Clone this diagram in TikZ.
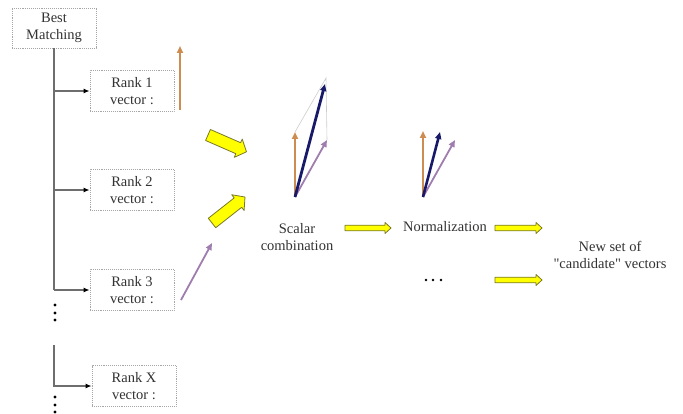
\documentclass[tikz,border=0pt]{standalone}
\usepackage{fontspec}
\defaultfontfeatures[\rmfamily]{}
\setmainfont{Liberation Serif}
\usetikzlibrary{arrows.meta}
\definecolor{vorange}{RGB}{205,140,80}
\definecolor{vnavy}{RGB}{25,25,105}
\definecolor{vpurple}{RGB}{160,125,175}
\definecolor{yfill}{RGB}{255,255,0}
\definecolor{yedge}{RGB}{120,120,40}
\definecolor{conn}{RGB}{110,110,110}
\definecolor{txt}{RGB}{50,50,50}
\tikzset{
  txtfont/.style={font=\fontsize{14.5}{17}\selectfont, text=txt},
  dbox/.style={draw=gray!70, densely dotted, line width=0.9pt, minimum width=84pt, minimum height=41pt, align=center, inner sep=1pt, txtfont},
  lbl/.style={align=center, inner sep=0pt, txtfont},
  connline/.style={draw=conn, line width=1.3pt},
  connarrow/.style={connline, -{Latex[length=6pt,width=5pt,color=black]}},
  yarrowline/.style={draw=yedge, fill=yfill, line width=0.8pt, line join=round},
  vec/.style={line width=#1, -{Triangle[length=7pt,width=6pt]}},
  vec/.default=2.4pt,
  guide/.style={draw=gray!40, line width=0.6pt},
  pics/yarrow/.style n args={4}{code={
    \draw[yarrowline] (0,#2) -- ({#1-#4},#2) -- ({#1-#4},#3) -- (#1,0)
      -- ({#1-#4},-#3) -- ({#1-#4},-#2) -- (0,-#2) -- cycle;}}
}
\begin{document}
\begin{tikzpicture}[x=1pt,y=-1pt]
\useasboundingbox (0,0) rectangle (683,414);

% boxes
\node[dbox, minimum width=84pt, minimum height=40pt] (bm) at (54,28) {Best\\Matching};
\node[dbox] (r1) at (132,91) {Rank 1\\vector :};
\node[dbox] (r2) at (132,190) {Rank 2\\vector :};
\node[dbox] (r3) at (132,290) {Rank 3\\vector :};
\node[dbox] (rx) at (134,386) {Rank X\\vector :};

% tree connectors
\coordinate (j1) at (54,91);
\coordinate (j2) at (54,190);
\coordinate (j3) at (54,290);
\coordinate (jx0) at (54,345);
\coordinate (jx) at (54,386);
\draw[connline] (bm.south) -- (j3);
\draw[connarrow] (j3) -- (r3.west);
\draw[connarrow] (j1) -- (r1.west);
\draw[connarrow] (j2) -- (r2.west);
\draw[connarrow] (jx0) -- (jx) -- (rx.west);

% vertical dots
\foreach \yy in {305,313,320,397,405,412}
  \fill[black] (55,\yy) circle (1.6pt);

% rank vectors
\coordinate (o1a) at (180,110);
\coordinate (o1b) at (180,46);
\draw[vec, vorange] (o1a) -- (o1b);
\coordinate (p3a) at (181,300);
\coordinate (p3b) at (212,243);
\draw[vec=1.8pt, vpurple] (p3a) -- (p3b);

% yellow block arrows (diagonal)
\pic[rotate=-23.6] at (208,135) {yarrow={42}{6}{10}{9}};
\pic[rotate=38.2] at (212,223) {yarrow={42}{6}{10}{9}};

% scalar combination vectors
\coordinate (so) at (295,197);
\coordinate (sor) at (295,132);
\coordinate (spu) at (327,140);
\coordinate (stop) at (326,78);
\coordinate (snv) at (325,84);
\draw[guide] (sor) -- (stop) -- (spu);
\draw[vec, vorange] (so) -- (sor);
\draw[vec=1.8pt, vpurple] (so) -- (spu);
\draw[vec=2.8pt, vnavy] (so) -- (snv);

\node[lbl] (sc) at (297,237) {Scalar\\combination};

% yellow horizontal arrows
\pic at (345,228) {yarrow={46}{2.8}{5.5}{6}};
\node[lbl] (nm) at (445,227) {Normalization};

% normalized vectors
\coordinate (no) at (423,197);
\coordinate (nor) at (423,131);
\coordinate (npu) at (455,140);
\coordinate (nnv) at (440,132);
\draw[vec, vorange] (no) -- (nor);
\draw[vec=1.8pt, vpurple] (no) -- (npu);
\draw[vec=2.6pt, vnavy] (no) -- (nnv);

\pic at (495,228) {yarrow={47}{2.8}{5.5}{6}};
\pic at (495,280) {yarrow={47}{2.8}{5.5}{6}};

% ellipsis
\foreach \xx in {426,433,441}
  \fill[black] (\xx,280) circle (1.4pt);

\node[lbl] (ns) at (610,255) {New set of\\"candidate" vectors};
\end{tikzpicture}
\end{document}
